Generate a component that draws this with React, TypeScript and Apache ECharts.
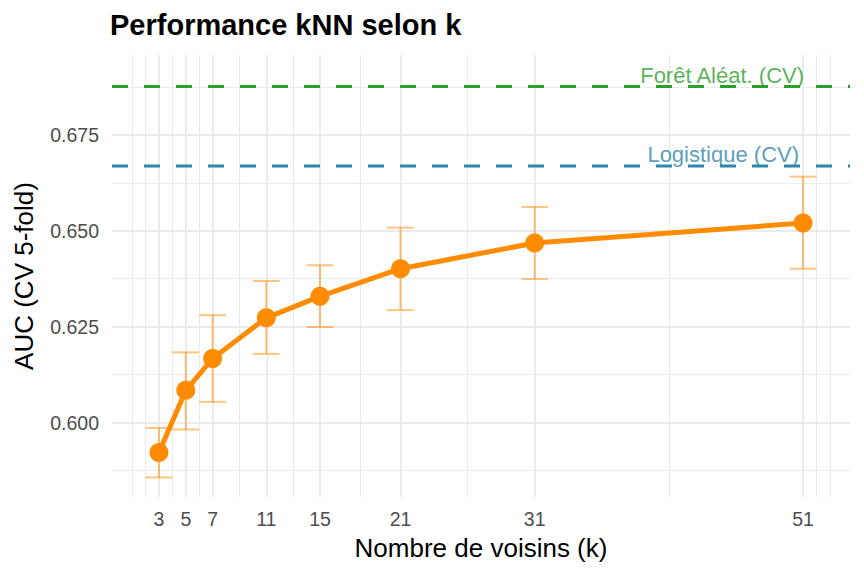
import React, { useEffect, useRef } from 'react'
import * as echarts from 'echarts'
import type { ECharts, EChartsOption } from 'echarts'

const kValues = [3, 5, 7, 11, 15, 21, 31, 51]
const aucMean = [0.5922, 0.6084, 0.6167, 0.6273, 0.6329, 0.6401, 0.6468, 0.652]
const aucLow = [0.5857, 0.5982, 0.6054, 0.6179, 0.6249, 0.6293, 0.6374, 0.6401]
const aucHigh = [0.5986, 0.6183, 0.628, 0.6369, 0.641, 0.6508, 0.6562, 0.6641]

const refLines = [
  { name: 'Forêt Aléat. (CV)', value: 0.6876, color: '#2CA02C' },
  { name: 'Logistique (CV)', value: 0.6669, color: '#2E86AB' },
]

const xMajor = [3, 5, 7, 11, 15, 21, 31, 51]
const xMinor = [1, 2, 4, 6, 9, 13, 18, 26, 41, 52, 53]
const yMajor = [0.6, 0.625, 0.65, 0.675]
const yMinor = [0.5875, 0.6125, 0.6375, 0.6625, 0.6875]

const X_MIN = -0.5
const X_MAX = 54.5
const Y_MIN = 0.5806
const Y_MAX = 0.6958

const FONT = 'Liberation Sans, Arial, sans-serif'
const ORANGE = '#FF8C00'
const GRID = '#EBEBEB'

export default function App() {
  const chartRef = useRef<HTMLDivElement | null>(null)
  const chartInstance = useRef<ECharts | null>(null)

  useEffect(() => {
    const points = kValues.map((k, i) => [k, aucMean[i]])
    const bars = kValues.map((k, i) => [k, aucLow[i], aucHigh[i]])

    const option: EChartsOption = {
      animation: false,
      backgroundColor: '#FFFFFF',
      title: {
        text: 'Performance kNN selon k',
        left: 110,
        top: 10,
        padding: 0,
        textStyle: {
          fontFamily: FONT,
          fontSize: 29,
          fontWeight: 'bold',
          color: '#000000',
        },
      },
      grid: { left: 112, right: 14, top: 55, bottom: 79 },
      xAxis: [
        {
          type: 'value',
          min: X_MIN,
          max: X_MAX,
          name: 'Nombre de voisins (k)',
          nameLocation: 'middle',
          nameGap: 38,
          nameTextStyle: { fontFamily: FONT, fontSize: 26, color: '#000000' },
          axisLine: { show: false },
          axisTick: { show: false, customValues: xMajor },
          axisLabel: {
            customValues: xMajor,
            margin: 12,
            fontFamily: FONT,
            fontSize: 19.5,
            color: '#4D4D4D',
          },
          splitLine: { show: true, lineStyle: { color: GRID, width: 2 } },
        },
        {
          type: 'value',
          min: X_MIN,
          max: X_MAX,
          axisLine: { show: false },
          axisTick: { show: false, customValues: xMinor },
          axisLabel: { show: false },
          splitLine: { show: true, lineStyle: { color: GRID, width: 1.1 } },
        },
      ],
      yAxis: [
        {
          type: 'value',
          min: Y_MIN,
          max: Y_MAX,
          name: 'AUC (CV 5-fold)',
          nameLocation: 'middle',
          nameGap: 75,
          nameTextStyle: { fontFamily: FONT, fontSize: 26, color: '#000000' },
          axisLine: { show: false },
          axisTick: { show: false, customValues: yMajor },
          axisLabel: {
            customValues: yMajor,
            margin: 13,
            fontFamily: FONT,
            fontSize: 19.5,
            color: '#4D4D4D',
            formatter: (v: number) => v.toFixed(3),
          },
          splitLine: { show: true, lineStyle: { color: GRID, width: 2 } },
        },
        {
          type: 'value',
          min: Y_MIN,
          max: Y_MAX,
          axisLine: { show: false },
          axisTick: { show: false, customValues: yMinor },
          axisLabel: { show: false },
          splitLine: { show: true, lineStyle: { color: GRID, width: 1.1 } },
        },
      ],
      series: [
        // lignes de référence (CV)
        ...refLines.map((r) => ({
          type: 'line' as const,
          name: r.name + ' ligne',
          silent: true,
          symbol: 'none',
          z: 2,
          data: [
            [X_MIN, r.value],
            [X_MAX, r.value],
          ],
          lineStyle: { color: r.color, width: 3, type: [16, 16] as number[] },
        })),
        {
          type: 'custom',
          name: 'errorbars',
          silent: true,
          data: bars,
          encode: { x: 0, y: [1, 2] },
          z: 3,
          renderItem: (params: any, api: any) => {
            const k = api.value(0)
            const lo = api.value(1)
            const hi = api.value(2)
            const top = api.coord([k, hi])
            const bottom = api.coord([k, lo])
            const topL = api.coord([k - 1, hi])
            const topR = api.coord([k + 1, hi])
            const botL = api.coord([k - 1, lo])
            const botR = api.coord([k + 1, lo])
            const style = { stroke: ORANGE, lineWidth: 2, opacity: 0.5 }
            return {
              type: 'group',
              children: [
                { type: 'line', shape: { x1: top[0], y1: top[1], x2: bottom[0], y2: bottom[1] }, style },
                { type: 'line', shape: { x1: topL[0], y1: topL[1], x2: topR[0], y2: topR[1] }, style },
                { type: 'line', shape: { x1: botL[0], y1: botL[1], x2: botR[0], y2: botR[1] }, style },
              ],
            }
          },
        },
        {
          type: 'line',
          name: 'kNN',
          data: points,
          z: 4,
          symbol: 'circle',
          symbolSize: 19,
          itemStyle: { color: ORANGE },
          lineStyle: { color: ORANGE, width: 5 },
          silent: true,
        },
        ...refLines.map((r, i) => ({
          type: 'scatter' as const,
          name: r.name,
          silent: true,
          symbolSize: 0,
          z: 5,
          data: [[51, r.value]],
          label: {
            show: true,
            position: 'top' as const,
            distance: 0,
            align: 'right' as const,
            offset: [i === 0 ? 1 : -4, 0],
            formatter: r.name,
            fontFamily: FONT,
            fontSize: 22,
            color: r.color,
          },
        })),
      ],
    }

    if (chartRef.current) {
      chartInstance.current = echarts.init(chartRef.current, undefined, { renderer: 'svg' })
      chartInstance.current.setOption(option)
    }

    return () => {
      chartInstance.current?.dispose()
    }
  }, [])

  return (
    <div
      ref={chartRef}
      style={{ position: 'fixed', left: 0, top: 0, width: '864px', height: '576px' }}
    />
  )
}
